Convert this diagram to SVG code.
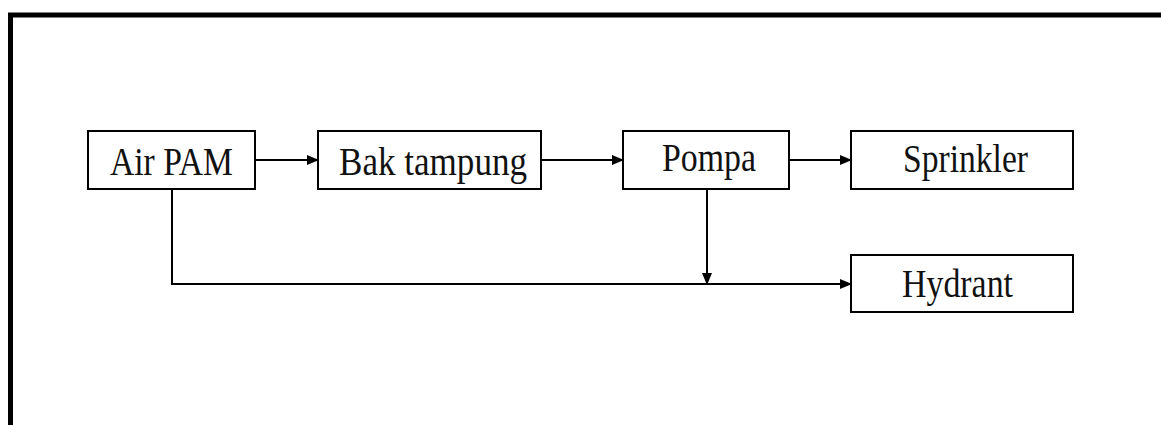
<svg xmlns="http://www.w3.org/2000/svg" width="1161" height="425" viewBox="0 0 1161 425">
<style>
.box{fill:#fff;stroke:#000;stroke-width:2}
.lbl{font-family:"Liberation Serif","Times New Roman",serif;font-size:40px;fill:#111;text-anchor:middle}
.ln{fill:none;stroke:#000;stroke-width:2}
</style>
<defs>
<marker id="ah" markerUnits="userSpaceOnUse" markerWidth="12" markerHeight="10" refX="11" refY="5" orient="auto">
<path d="M0,0 L12,5 L0,10 Z" fill="#000"/>
</marker>
</defs>
<rect width="1161" height="425" fill="#fff"/>
<g id="frame">
<path d="M10.5,425 V15 H1161" fill="none" stroke="#000" stroke-width="5"/>
</g>
<g id="connectors">
<line class="ln" x1="255" y1="160" x2="318" y2="160" marker-end="url(#ah)"/>
<line class="ln" x1="541" y1="160" x2="623" y2="160" marker-end="url(#ah)"/>
<line class="ln" x1="789" y1="160" x2="851" y2="160" marker-end="url(#ah)"/>
<polyline class="ln" points="172,189 172,284 851,284" marker-end="url(#ah)"/>
<line class="ln" x1="707" y1="189" x2="707" y2="284" stroke-width="3" marker-end="url(#ah)"/>
</g>
<g id="air-pam">
<rect class="box" x="88" y="131" width="167" height="58"/>
<text class="lbl" x="171.5" y="175" textLength="123" lengthAdjust="spacingAndGlyphs">Air PAM</text>
</g>
<g id="bak-tampung">
<rect class="box" x="318" y="131" width="223" height="58"/>
<text class="lbl" x="433" y="175" textLength="188" lengthAdjust="spacingAndGlyphs">Bak tampung</text>
</g>
<g id="pompa">
<rect class="box" x="623" y="131" width="166" height="58"/>
<text class="lbl" x="709" y="171" textLength="94" lengthAdjust="spacingAndGlyphs">Pompa</text>
</g>
<g id="sprinkler">
<rect class="box" x="851" y="131" width="222" height="58"/>
<text class="lbl" x="965.5" y="172" textLength="125" lengthAdjust="spacingAndGlyphs">Sprinkler</text>
</g>
<g id="hydrant">
<rect class="box" x="851" y="255" width="222" height="57"/>
<text class="lbl" x="957.5" y="297" textLength="111" lengthAdjust="spacingAndGlyphs">Hydrant</text>
</g>
</svg>
